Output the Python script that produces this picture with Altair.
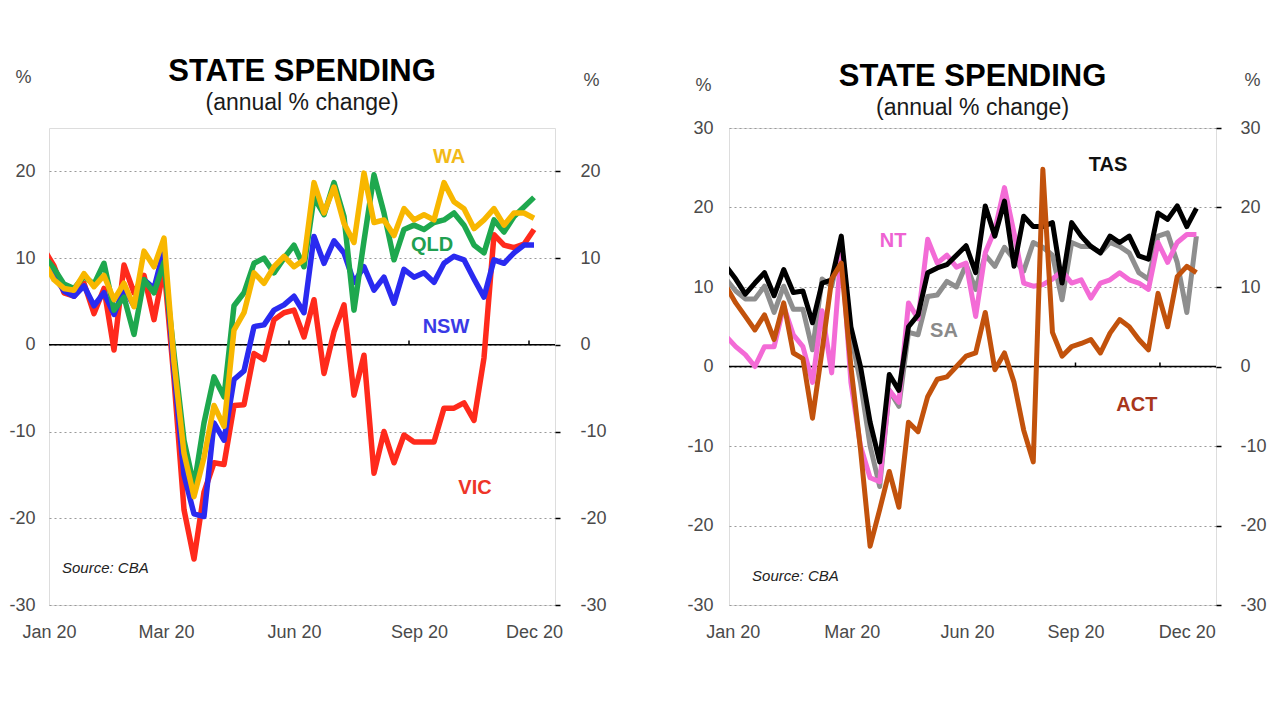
import altair as alt
import pandas as pd

FONT = "Liberation Sans"

# ---------------- data (weekly index, annual % change) ----------------
weeks = list(range(50))

# left panel
vic = [11.0, 9.1, 6.0, 5.6, 7.1, 3.6, 6.5, -0.6, 9.2, 6.0,
       8.0, 2.9, 9.0, -4.0, -19.0, -24.7, -17.0, -13.6, -13.8, -7.0,
       -6.9, -1.0, -1.7, 2.9, 3.7, 4.0, 0.9, 5.2, -3.3, 1.5,
       4.6, -5.8, -1.2, -14.8, -10.0, -13.6, -10.4, -11.2, -11.2, -11.2,
       -7.3, -7.3, -6.7, -8.7, -1.5, 12.7, 11.5, 11.2, 11.6, 13.3]
nsw = [10.2, 8.0, 6.2, 5.6, 6.8, 4.5, 6.0, 3.5, 6.5, 4.5,
       7.5, 6.5, 11.0, -3.0, -15.0, -19.5, -19.8, -9.0, -11.0, -4.0,
       -3.0, 2.1, 2.3, 4.0, 4.6, 5.6, 3.7, 12.5, 9.4, 12.0,
       10.6, 7.2, 9.0, 6.3, 7.8, 4.8, 8.7, 7.8, 8.3, 7.2,
       9.4, 10.2, 9.8, 7.6, 5.5, 9.8, 9.4, 10.6, 11.5, 11.5]
qld = [10.2, 8.8, 7.0, 6.5, 7.9, 7.0, 9.4, 4.0, 5.5, 1.2,
       7.5, 6.0, 9.5, -1.0, -11.0, -16.3, -9.0, -3.7, -6.0, 4.5,
       6.0, 9.4, 10.0, 8.3, 10.0, 11.5, 9.0, 17.0, 15.0, 18.7,
       14.8, 4.0, 12.0, 19.6, 15.2, 9.8, 13.3, 13.8, 13.3, 14.1,
       14.4, 15.2, 13.8, 11.5, 10.6, 14.4, 13.0, 14.8, 15.9, 17.0]
wa = [9.5, 7.5, 6.5, 6.3, 8.2, 6.7, 8.0, 5.2, 7.1, 4.4,
      10.8, 9.0, 12.3, -2.0, -12.5, -17.5, -13.0, -7.0, -9.4, 1.7,
      3.7, 8.3, 7.1, 9.0, 10.2, 9.0, 9.8, 18.7, 15.2, 18.2,
      14.0, 11.8, 19.8, 14.1, 14.4, 12.6, 15.7, 14.4, 15.0, 14.4,
      18.7, 16.5, 15.7, 13.4, 14.4, 15.7, 13.8, 15.2, 15.2, 14.6]

# right panel
tas = [12.6, 11.0, 9.1, 10.5, 11.8, 8.9, 12.2, 9.3, 9.5, 5.5,
       10.5, 10.9, 16.4, 5.0, 0.0, -7.0, -12.0, -1.0, -3.0, 5.0,
       6.5, 11.8, 12.4, 12.8, 14.0, 15.2, 11.8, 20.2, 16.4, 20.8,
       12.6, 18.9, 17.6, 17.6, 18.1, 10.5, 18.1, 16.4, 15.1, 14.3,
       16.4, 15.6, 16.4, 13.9, 13.5, 19.3, 18.5, 20.2, 17.6, 19.9]
nt = [3.8, 2.5, 1.5, 0.0, 2.5, 2.5, 7.6, 4.0, 2.5, -2.0,
      7.0, -0.8, 15.0, -2.0, -10.0, -14.0, -14.5, -3.0, -4.5, 8.0,
      6.0, 16.0, 13.0, 14.0, 12.5, 13.0, 6.3, 14.3, 17.2, 22.5,
      16.8, 10.5, 10.1, 10.3, 11.0, 12.0, 10.5, 10.9, 8.6, 10.5,
      10.9, 11.8, 10.9, 10.5, 9.7, 15.6, 13.1, 15.6, 16.6, 16.6]
sa = [11.0, 9.5, 8.5, 8.5, 10.1, 6.8, 10.1, 7.2, 7.2, 2.1,
      11.0, 10.1, 15.6, 4.0, -2.0, -10.0, -15.1, -3.0, -5.0, 4.3,
      4.0, 8.8, 9.0, 10.7, 10.0, 12.8, 9.7, 14.0, 12.6, 15.0,
      13.5, 12.0, 15.6, 15.0, 14.0, 8.4, 15.6, 15.1, 15.1, 14.3,
      15.6, 15.1, 14.3, 11.8, 11.0, 16.4, 16.8, 13.1, 6.8, 16.4]
act = [10.1, 8.0, 6.3, 4.6, 6.5, 3.4, 8.0, 1.7, 1.0, -6.5,
       2.0, 11.0, 13.0, 0.0, -10.4, -22.6, -18.0, -13.2, -17.7, -7.0,
       -8.2, -3.8, -1.6, -1.3, 0.0, 1.3, 1.7, 6.8, -0.4, 1.7,
       -2.0, -8.0, -12.0, 24.8, 4.3, 1.3, 2.5, 2.9, 3.4, 1.7,
       4.2, 5.9, 5.0, 3.4, 2.1, 9.2, 5.0, 11.3, 12.6, 11.8]

month_labels = ["Jan 20", "Mar 20", "Jun 20", "Sep 20", "Dec 20"]
left_month_pos = [0.5, 12.2, 25.0, 37.5, 49.0]
right_month_pos = [0.7, 13.1, 25.1, 36.4, 48.0]

left_y_ticks = [-30, -20, -10, 0, 10, 20]
right_y_ticks = [-30, -20, -10, 0, 10, 20, 30]

# series: name, values, line colour, label colour, label x, label y  (drawing order bottom -> top)
left_names = ["VIC", "NSW", "QLD", "WA"]
left_values = [vic, nsw, qld, wa]
left_colors = ["#FF2A1C", "#2A2AF0", "#1EA84E", "#F8B700"]
left_label_colors = ["#EE3528", "#3A3AE6", "#20A050", "#F2BA18"]
left_label_x = [43.1, 40.2, 38.8, 40.5]
left_label_y = [-16.5, 2.0, 11.5, 21.7]

right_names = ["SA", "NT", "TAS", "ACT"]
right_values = [sa, nt, tas, act]
right_colors = ["#8E8E8E", "#F36BD6", "#000000", "#C2520C"]
right_label_colors = ["#8A8A8A", "#EE62D2", "#111111", "#A8361C"]
right_label_x = [22.7, 17.4, 39.8, 42.8]
right_label_y = [4.5, 15.8, 25.3, -4.9]

left_zero_ticks = [24.5, 36.5, 48.5]
right_zero_ticks = [36.4, 45.2]

source_text = "Source: CBA"


def make_panel(names, values, colors, label_colors, lab_x, lab_y, xdom, month_pos,
               ydom, yticks, zero_ticks, tick_len, src_pos, width, stroke_w,
               left_pad, right_pad, title_offset, pct_y):
    expr = " : ".join(
        f"datum.value == {p} ? '{l}'" for p, l in zip(month_pos, month_labels)
    ) + " : ''"
    xscale = alt.Scale(domain=xdom, nice=False, zero=False)
    yscale = alt.Scale(domain=ydom, nice=False, zero=False)
    x_enc = alt.X(
        "week:Q", scale=xscale,
        axis=alt.Axis(values=month_pos, labelExpr=expr, title=None, grid=False,
                      ticks=False, domain=False, labelFontSize=18, labelColor="#4a4a4a",
                      labelFont=FONT, labelPadding=18, labelFlush=False, labelOverlap=False),
    )
    ylab = "replace(datum.label, '\u2212', '-')"
    y_axis_left = alt.Axis(
        values=yticks, title="%", titleAngle=0, titleFontSize=18, titleFontWeight="normal",
        titleColor="#4a4a4a", titleFont=FONT, titleX=-26, titleY=pct_y[0], titleAlign="center",
        titleBaseline="middle", labelExpr=ylab,
        grid=True, gridDash=[2, 3], gridColor="#9a9a9a", gridWidth=1.2,
        ticks=False, domain=False, labelFontSize=18, labelColor="#4a4a4a", labelFont=FONT,
        labelPadding=left_pad,
    )
    y_enc = alt.Y("value:Q", scale=yscale, axis=y_axis_left)

    layers = []
    # zero line
    layers.append(
        alt.Chart(pd.DataFrame({"value": [0]})).mark_rule(color="black", strokeWidth=1.6)
        .encode(y=y_enc)
    )
    # small ticks on the zero line
    zt = pd.DataFrame({"week": zero_ticks, "value": [0] * len(zero_ticks),
                       "top": [tick_len] * len(zero_ticks)})
    layers.append(
        alt.Chart(zt).mark_rule(color="black", strokeWidth=1.5)
        .encode(x=x_enc, y=y_enc, y2="top:Q")
    )
    # series lines
    for name, vals, col in zip(names, values, colors):
        df = pd.DataFrame({"week": weeks, "value": vals, "state": name})
        layers.append(
            alt.Chart(df).mark_line(color=col, strokeWidth=stroke_w, clip=True,
                                    strokeJoin="round", strokeCap="butt")
            .encode(x=x_enc, y=y_enc)
        )
    # series labels
    for name, lx, ly, lc in zip(names, lab_x, lab_y, label_colors):
        ldf = pd.DataFrame({"week": [lx], "value": [ly], "label": [name]})
        layers.append(
            alt.Chart(ldf).mark_text(font=FONT, fontSize=20, fontWeight="bold", color=lc,
                                     align="center", baseline="middle")
            .encode(x=x_enc, y=y_enc, text="label:N")
        )
    # source note
    sdf = pd.DataFrame({"week": [src_pos[0]], "value": [src_pos[1]], "label": [source_text]})
    layers.append(
        alt.Chart(sdf).mark_text(font=FONT, fontSize=15, fontStyle="italic", color="#222222",
                                 align="left", baseline="middle")
        .encode(x=x_enc, y=y_enc, text="label:N")
    )
    inner = alt.layer(*layers)

    right_axis = alt.Chart(pd.DataFrame({"value": [0]})).mark_rule(opacity=0).encode(
        y=alt.Y("value:Q", scale=yscale,
                axis=alt.Axis(orient="right", values=yticks, title="%", titleAngle=0,
                              titleFontSize=18, titleFontWeight="normal", titleColor="#4a4a4a",
                              titleFont=FONT, titleX=36, titleY=pct_y[1], titleAlign="center",
                              titleBaseline="middle", labelExpr=ylab,
                              grid=False, ticks=True, tickSize=5, tickColor="black",
                              tickWidth=1.5, domain=False, labelFontSize=18,
                              labelColor="#4a4a4a", labelFont=FONT, labelPadding=right_pad))
    )
    return alt.layer(inner, right_axis).resolve_scale(y="independent").properties(
        width=width, height=477,
        title=alt.TitleParams(
            text="STATE SPENDING", subtitle="(annual % change)", anchor="middle",
            frame="group", font=FONT, fontSize=31, fontWeight="bold", color="#000000",
            subtitleFont=FONT, subtitleFontSize=23, subtitleColor="#1a1a1a",
            subtitlePadding=4, offset=title_offset,
        ),
    )


left = make_panel(left_names, left_values, left_colors, left_label_colors,
                  left_label_x, left_label_y, [0.5, 51.1], left_month_pos,
                  [-30, 25], left_y_ticks, left_zero_ticks, 0.5, (1.8, -25.7), 506, 5.5,
                  14, 20, -48, (-51, -48))
right = make_panel(right_names, right_values, right_colors, right_label_colors,
                   right_label_x, right_label_y, [0.3, 51.04], right_month_pos,
                   [-30, 30], right_y_ticks, right_zero_ticks, 0.5, (2.7, -26.3), 487, 5,
                   16, 19, -50, (-43, -48))

chart = alt.hconcat(left, right, spacing=79).properties(
    padding={"left": 8, "top": 55, "right": 5, "bottom": 5}
).configure_view(
    stroke="black", strokeWidth=2
).configure(font=FONT, background="white")

chart.save("out.html", embed_options={"renderer": "svg", "actions": False})
